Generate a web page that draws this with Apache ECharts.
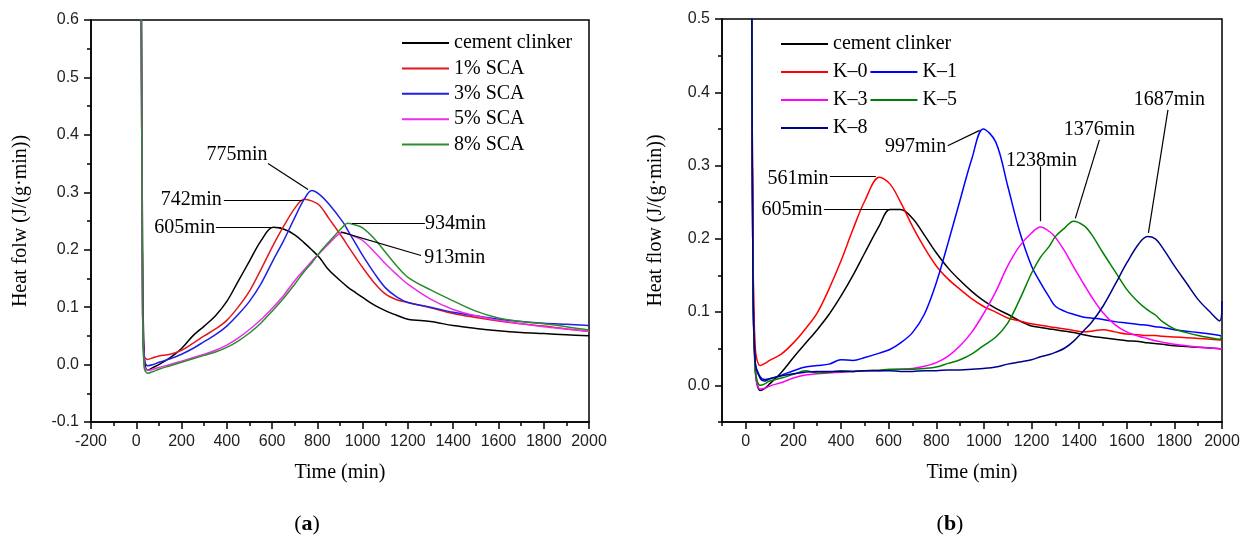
<!DOCTYPE html>
<html>
<head>
<meta charset="utf-8">
<script src="https://cdn.jsdelivr.net/npm/echarts@6/dist/echarts.min.js"></script>
<style>
  html, body { margin: 0; padding: 0; background: #fff; }
  #chart { width: 1247px; height: 538px; }
</style>
</head>
<body>
<div id="chart"></div>
<script>
// ---------- Panel (a): heat flow of clinker with SCA dosages ----------
const timeA = [22, 28, 35, 50, 75, 100, 150, 200, 250, 300, 350, 400, 450, 500, 550, 605, 650, 700, 742, 775,
               810, 850, 913, 934, 970, 1000, 1050, 1100, 1150, 1200, 1300, 1400, 1500, 1600, 1700, 1800, 1900, 2000];
const clinkerA = [0.65, 0.2, 0.02, -0.01, -0.005, 0.0, 0.012, 0.028, 0.05, 0.067, 0.085, 0.11, 0.145, 0.18, 0.215, 0.239, 0.236, 0.226, 0.212, 0.2,
                  0.186, 0.165, 0.142, 0.135, 0.125, 0.117, 0.104, 0.094, 0.086, 0.079, 0.075, 0.068, 0.063, 0.059, 0.056, 0.054, 0.052, 0.05];
const sca1 = [0.65, 0.1, 0.015, 0.009, 0.012, 0.015, 0.018, 0.025, 0.037, 0.05, 0.062, 0.077, 0.1, 0.128, 0.165, 0.208, 0.24, 0.272, 0.288, 0.285,
              0.277, 0.255, 0.22, 0.207, 0.186, 0.169, 0.143, 0.123, 0.113, 0.108, 0.099, 0.089, 0.082, 0.076, 0.071, 0.067, 0.062, 0.058];
const sca3 = [0.65, 0.1, 0.01, -0.002, 0.0, 0.004, 0.01, 0.018, 0.028, 0.04, 0.052, 0.067, 0.087, 0.11, 0.14, 0.182, 0.215, 0.256, 0.288, 0.303,
              0.296, 0.28, 0.248, 0.234, 0.21, 0.19, 0.16, 0.134, 0.118, 0.108, 0.1, 0.091, 0.085, 0.079, 0.075, 0.072, 0.07, 0.068];
const sca5 = [0.65, 0.1, 0.0, -0.01, -0.008, -0.005, 0.0, 0.006, 0.012, 0.018, 0.025, 0.034, 0.046, 0.061, 0.078, 0.1, 0.12, 0.146, 0.165, 0.18,
              0.194, 0.21, 0.23, 0.228, 0.222, 0.216, 0.197, 0.176, 0.157, 0.14, 0.114, 0.096, 0.085, 0.077, 0.071, 0.066, 0.062, 0.058];
const sca8 = [0.65, 0.1, -0.005, -0.015, -0.012, -0.008, -0.002, 0.004, 0.01, 0.016, 0.022, 0.03, 0.041, 0.055, 0.072, 0.095, 0.115, 0.14, 0.162, 0.177,
              0.195, 0.213, 0.24, 0.246, 0.243, 0.238, 0.22, 0.196, 0.172, 0.152, 0.13, 0.111, 0.093, 0.081, 0.075, 0.071, 0.066, 0.06];
const namesA = ['cement clinker', '1% SCA', '3% SCA', '5% SCA', '8% SCA'];

// ---------- Panel (b): heat flow of clinker and K series ----------
const timeB = [25, 30, 40, 60, 80, 100, 150, 200, 250, 300, 350, 400, 450, 500, 561, 605, 650, 700, 750, 800,
               850, 900, 950, 997, 1050, 1100, 1150, 1200, 1238, 1275, 1300, 1340, 1376, 1420, 1450, 1500, 1550, 1600,
               1650, 1687, 1720, 1750, 1800, 1850, 1900, 1950, 1990, 2000];
const clinkerB = [0.55, 0.2, 0.02, -0.007, -0.004, 0.002, 0.018, 0.038, 0.057, 0.076, 0.097, 0.122, 0.15, 0.181, 0.218, 0.24, 0.24, 0.228, 0.205, 0.181,
                  0.16, 0.143, 0.128, 0.116, 0.105, 0.097, 0.088, 0.081, 0.079, 0.077, 0.076, 0.074, 0.072, 0.069, 0.067, 0.065, 0.063, 0.061,
                  0.06, 0.058, 0.057, 0.056, 0.054, 0.053, 0.052, 0.051, 0.05, 0.05];
const k0 = [0.55, 0.2, 0.05, 0.027, 0.03, 0.034, 0.043, 0.058, 0.077, 0.099, 0.132, 0.17, 0.213, 0.252, 0.284, 0.275, 0.25, 0.217, 0.188, 0.163,
            0.145, 0.131, 0.118, 0.108, 0.1, 0.092, 0.088, 0.084, 0.082, 0.08, 0.079, 0.077, 0.075, 0.073, 0.074, 0.076, 0.073, 0.07,
            0.069, 0.068, 0.068, 0.067, 0.066, 0.065, 0.064, 0.063, 0.062, 0.062];
const k1 = [0.55, 0.15, 0.03, 0.012, 0.008, 0.009, 0.014, 0.02, 0.025, 0.027, 0.029, 0.035, 0.034, 0.038, 0.044, 0.049, 0.058, 0.072, 0.097, 0.14,
            0.195, 0.253, 0.31, 0.35, 0.332, 0.272, 0.21, 0.163, 0.14, 0.12, 0.108, 0.101, 0.097, 0.093, 0.092, 0.09, 0.087, 0.085,
            0.083, 0.082, 0.08, 0.079, 0.076, 0.074, 0.072, 0.07, 0.068, 0.067];
const k3 = [0.55, 0.15, 0.02, -0.005, -0.004, -0.001, 0.004, 0.01, 0.014, 0.016, 0.017, 0.018, 0.019, 0.02, 0.02, 0.021, 0.022, 0.023, 0.026, 0.031,
            0.04, 0.054, 0.073, 0.097, 0.128, 0.163, 0.19, 0.208, 0.216, 0.21, 0.202, 0.183, 0.162, 0.138, 0.122, 0.099, 0.083, 0.073,
            0.067, 0.064, 0.061, 0.059, 0.056, 0.054, 0.052, 0.051, 0.05, 0.05];
const k5 = [0.55, 0.15, 0.02, 0.0, 0.002, 0.006, 0.01, 0.015, 0.02, 0.017, 0.018, 0.02, 0.019, 0.02, 0.021, 0.022, 0.022, 0.022, 0.023, 0.025,
            0.03, 0.035, 0.043, 0.054, 0.066, 0.085, 0.117, 0.153, 0.175, 0.19, 0.203, 0.215, 0.224, 0.218, 0.207, 0.181, 0.156, 0.131,
            0.113, 0.103, 0.096, 0.087, 0.077, 0.072, 0.068, 0.065, 0.063, 0.07];
const k8 = [0.55, 0.15, 0.03, 0.01, 0.006, 0.009, 0.013, 0.016, 0.018, 0.019, 0.019, 0.019, 0.019, 0.02, 0.02, 0.02, 0.019, 0.019, 0.02, 0.02,
            0.021, 0.021, 0.022, 0.023, 0.025, 0.029, 0.032, 0.035, 0.039, 0.042, 0.045, 0.051, 0.06, 0.075, 0.085, 0.108, 0.137, 0.167,
            0.193, 0.203, 0.2, 0.188, 0.163, 0.14, 0.117, 0.1, 0.088, 0.115];
const namesB = ['cement clinker', 'K–0', 'K–1', 'K–3', 'K–5', 'K–8'];

// ---------- Axis ticks ----------
const xMajorB = [0, 200, 400, 600, 800, 1000, 1200, 1400, 1600, 1800, 2000];
const xMinorB = [-100, 100, 300, 500, 700, 900, 1100, 1300, 1500, 1700, 1900];
const yMajorB = [0, 0.1, 0.2, 0.3, 0.4, 0.5];
const yMinorB = [-0.05, 0.05, 0.15, 0.25, 0.35, 0.45];

// ---------- Peak callouts: text anchor and leader line, in data units ----------
const notesA = [
  { text: '605min', at: [214, 0.238], from: [352, 0.239], to: [640, 0.239] },
  { text: '742min', at: [243, 0.287], from: [387, 0.287], to: [734, 0.287] },
  { text: '775min', at: [445, 0.366], from: [582, 0.35], to: [759, 0.305] },
  { text: '934min', at: [1410, 0.246], from: [1275, 0.246], to: [953, 0.246] },
  { text: '913min', at: [1407, 0.186], from: [1258, 0.19], to: [903, 0.231] }
];
const notesB = [
  { text: '561min', at: [219, 0.282], from: [353, 0.285], to: [546, 0.285] },
  { text: '605min', at: [194, 0.24], from: [328, 0.241], to: [655, 0.241] },
  { text: '997min', at: [713, 0.325], from: [848, 0.327], to: [982, 0.348] },
  { text: '1238min', at: [1242, 0.307], from: [1237, 0.299], to: [1237, 0.224] },
  { text: '1376min', at: [1485, 0.349], from: [1485, 0.335], to: [1384, 0.228] },
  { text: '1687min', at: [1779, 0.39], from: [1773, 0.376], to: [1691, 0.208] }
];

const SERIF = '"Liberation Serif", "Times New Roman", serif';
const SANS = '"Liberation Sans", Arial, sans-serif';

const pairs = (ts, vs) => ts.map((t, i) => [t, vs[i]]);
const fmt1 = v => (Math.abs(v) < 1e-9 ? 0 : v).toFixed(1);
const fmtInt = v => String(Math.round(v));

function curve(name, ts, vs, color, gi) {
  return {
    type: 'line', name, data: pairs(ts, vs),
    xAxisIndex: gi === 0 ? 0 : 1, yAxisIndex: gi === 0 ? 0 : 1,
    color, showSymbol: false, symbol: 'none',
    smooth: 0.35, clip: true,
    lineStyle: { color, width: 1.5 },
    emphasis: { disabled: true }, silent: true, animation: false
  };
}

function callouts(notes) {
  return {
    markLine: {
      silent: true, animation: false, symbol: ['none', 'none'],
      lineStyle: { color: '#000', width: 1.2, type: 'solid' },
      label: { show: false }, emphasis: { disabled: true },
      data: notes.map(n => [{ coord: n.from }, { coord: n.to }])
    },
    markPoint: {
      silent: true, animation: false, symbol: 'rect', symbolSize: 0,
      itemStyle: { color: 'transparent' },
      label: { show: true, position: 'inside', formatter: '{b}', fontFamily: SERIF, fontSize: 20, color: '#000' },
      data: notes.map(n => ({ coord: n.at, name: n.text }))
    }
  };
}

const axisLine = { show: true, onZero: false, lineStyle: { color: '#000', width: 1.5 } };
const hiddenLine = { show: false, onZero: false };
const tickStyle = { color: '#000', width: 1.5 };
const tickLabel = { color: '#222', fontFamily: SANS, fontSize: 16, margin: 12, showMinLabel: true, showMaxLabel: true };
const titleText = { fontFamily: SERIF, fontSize: 20, color: '#000' };
const legendText = { fontFamily: SERIF, fontSize: 20, color: '#000', lineHeight: 20 };
const legendBase = {
  icon: 'rect', itemWidth: 47, itemHeight: 2, padding: 0, selectedMode: false,
  textStyle: legendText, orient: 'horizontal'
};

const seriesA = [
  Object.assign(curve(namesA[0], timeA, clinkerA, '#000000', 0), callouts(notesA)),
  curve(namesA[1], timeA, sca1, '#e0191f', 0),
  curve(namesA[2], timeA, sca3, '#1f1fe6', 0),
  curve(namesA[3], timeA, sca5, '#ee2cee', 0),
  curve(namesA[4], timeA, sca8, '#2e8b2e', 0)
];
const seriesB = [
  Object.assign(curve(namesB[0], timeB, clinkerB, '#000000', 1), callouts(notesB)),
  curve(namesB[1], timeB, k0, '#ff0000', 1),
  curve(namesB[2], timeB, k1, '#0000ff', 1),
  curve(namesB[3], timeB, k3, '#ff00ff', 1),
  curve(namesB[4], timeB, k5, '#008000', 1),
  curve(namesB[5], timeB, k8, '#00008b', 1)
];

const option = {
  backgroundColor: '#ffffff',
  animation: false,
  grid: [
    { left: 91, top: 20, width: 498, height: 402, show: true, borderColor: '#000', borderWidth: 1.5, backgroundColor: 'transparent', containLabel: false, outerBoundsMode: 'none' },
    { left: 722, top: 19, width: 500, height: 403, show: true, borderColor: '#000', borderWidth: 1.5, backgroundColor: 'transparent', containLabel: false, outerBoundsMode: 'none' }
  ],
  xAxis: [
    {
      gridIndex: 0, type: 'value', position: 'bottom', min: -200, max: 2000, interval: 200,
      axisLine, axisTick: { show: true, length: 7, lineStyle: tickStyle },
      minorTick: { show: true, splitNumber: 2, length: 4, lineStyle: tickStyle },
      splitLine: { show: false }, minorSplitLine: { show: false },
      axisLabel: Object.assign({}, tickLabel, { formatter: fmtInt }),
      name: 'Time (min)', nameLocation: 'middle', nameGap: 41, nameTextStyle: titleText
    },
    {
      gridIndex: 1, type: 'value', position: 'bottom', min: -100, max: 2000,
      axisLine, axisTick: { show: true, length: 7, lineStyle: tickStyle, customValues: xMajorB },
      splitLine: { show: false },
      axisLabel: Object.assign({}, tickLabel, { customValues: xMajorB, formatter: fmtInt }),
      name: 'Time (min)', nameLocation: 'middle', nameGap: 41, nameTextStyle: titleText
    },
    {
      gridIndex: 1, type: 'value', position: 'bottom', offset: 0, min: -100, max: 2000,
      axisLine: hiddenLine, axisTick: { show: true, length: 4, lineStyle: tickStyle, customValues: xMinorB },
      splitLine: { show: false }, axisLabel: { show: false }
    }
  ],
  yAxis: [
    {
      gridIndex: 0, type: 'value', position: 'left', min: -0.1, max: 0.6, interval: 0.1,
      axisLine, axisTick: { show: true, length: 7, lineStyle: tickStyle },
      minorTick: { show: true, splitNumber: 2, length: 4, lineStyle: tickStyle },
      splitLine: { show: false }, minorSplitLine: { show: false },
      axisLabel: Object.assign({}, tickLabel, { formatter: fmt1 }),
      name: 'Heat folw (J/(g·min))', nameLocation: 'middle', nameGap: 60, nameTextStyle: titleText
    },
    {
      gridIndex: 1, type: 'value', position: 'left', min: -0.05, max: 0.5,
      axisLine, axisTick: { show: true, length: 7, lineStyle: tickStyle, customValues: yMajorB },
      splitLine: { show: false },
      axisLabel: Object.assign({}, tickLabel, { customValues: yMajorB, formatter: fmt1 }),
      name: 'Heat flow (J/(g·min))', nameLocation: 'middle', nameGap: 56, nameTextStyle: titleText
    },
    {
      gridIndex: 1, type: 'value', position: 'left', offset: 0, min: -0.05, max: 0.5,
      axisLine: hiddenLine, axisTick: { show: true, length: 4, lineStyle: tickStyle, customValues: yMinorB },
      splitLine: { show: false }, axisLabel: { show: false }
    }
  ],
  legend: [
    Object.assign({}, legendBase, { data: namesA, orient: 'vertical', left: 402, top: 33, itemGap: 5.4 }),
    Object.assign({}, legendBase, { data: [namesB[0]], left: 781, top: 34 }),
    Object.assign({}, legendBase, { data: [namesB[1], namesB[2]], left: 781, top: 62, itemGap: 3 }),
    Object.assign({}, legendBase, { data: [namesB[3], namesB[4]], left: 781, top: 90, itemGap: 3 }),
    Object.assign({}, legendBase, { data: [namesB[5]], left: 781, top: 118 })
  ],
  graphic: [
    {
      type: 'text', x: 307, y: 524, silent: true,
      style: { text: '({b|a})', fontFamily: SERIF, fontSize: 22, fill: '#000', align: 'center', verticalAlign: 'middle',
               textAlign: 'center', textVerticalAlign: 'middle', rich: { b: { fontFamily: SERIF, fontSize: 22, fontWeight: 'bold' } } }
    },
    {
      type: 'text', x: 950, y: 524, silent: true,
      style: { text: '({b|b})', fontFamily: SERIF, fontSize: 22, fill: '#000', align: 'center', verticalAlign: 'middle',
               textAlign: 'center', textVerticalAlign: 'middle', rich: { b: { fontFamily: SERIF, fontSize: 22, fontWeight: 'bold' } } }
    }
  ],
  series: seriesA.concat(seriesB)
};

const chart = echarts.init(document.getElementById('chart'), null, { renderer: 'canvas' });
chart.setOption(option);
</script>
</body>
</html>
